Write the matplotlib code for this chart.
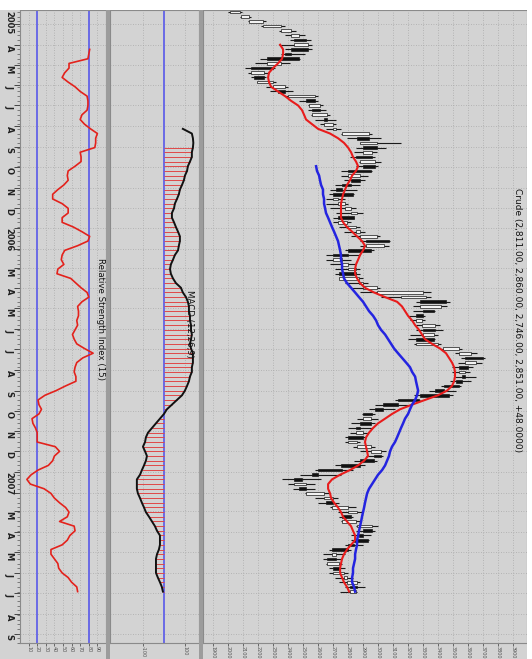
import matplotlib
matplotlib.use("Agg")
import matplotlib.pyplot as plt
import matplotlib.dates as mdates
from matplotlib.patches import Rectangle
from matplotlib.transforms import blended_transform_factory
import pandas as pd

# ---------------- data (weekly bars) ----------------
start_week = "2005-02-11"
n_weeks = 125

opens = [2010, 2085, 2140, 2230, 2350, 2420, 2520, 2440, 2530, 2420, 2470, 2260, 2300, 2150, 2240, 2190, 2300, 2380, 2400, 2580,
         2540, 2610, 2560, 2660, 2640, 2700, 2760, 2940, 2880, 2990, 2900, 2960, 2880, 2980, 2950, 2800, 2880, 2820, 2760, 2830,
         2700, 2730, 2780, 2820, 2840, 2730, 2790, 2850, 2880, 3070, 2920, 2950, 2800, 2700, 2760, 2800, 2850, 2740, 2870, 2900,
         2990, 3150, 3450, 3280, 3370, 3300, 3250, 3290, 3380, 3300, 3370, 3250, 3430, 3540, 3700, 3580, 3600, 3540, 3580, 3560,
         3540, 3440, 3470, 3270, 3130, 3030, 2960, 2900, 2950, 2880, 2850, 2900, 2800, 2860, 2950, 3020, 2970, 2880, 2760, 2600,
         2490, 2440, 2520, 2520, 2640, 2700, 2690, 2800, 2820, 2760, 2860, 2960, 2900, 2930, 2840, 2800, 2690, 2720, 2660, 2740,
         2700, 2770, 2790, 2860, 2811]
highs = [2095, 2150, 2250, 2380, 2450, 2510, 2550, 2560, 2560, 2510, 2480, 2410, 2310, 2270, 2250, 2320, 2400, 2430, 2600, 2600,
         2630, 2650, 2680, 2720, 2720, 2750, 2960, 3020, 3150, 3050, 2990, 2980, 3020, 3000, 2960, 2930, 2910, 2880, 2860, 2840,
         2780, 2800, 2850, 2900, 2840, 2820, 2880, 2910, 3010, 3080, 3070, 2970, 2880, 2820, 2850, 2880, 2880, 2900, 2930, 3010,
         3350, 3350, 3480, 3460, 3380, 3310, 3310, 3410, 3430, 3400, 3380, 3420, 3560, 3660, 3710, 3690, 3630, 3610, 3650, 3620,
         3550, 3520, 3500, 3280, 3200, 3110, 2980, 3000, 2980, 2960, 2930, 2910, 2880, 2980, 3050, 3030, 2990, 2910, 2830, 2750,
         2620, 2580, 2580, 2670, 2730, 2740, 2850, 2890, 2830, 2880, 3000, 2980, 2950, 2940, 2900, 2820, 2780, 2750, 2760, 2780,
         2800, 2830, 2880, 2910, 2860]
lows = [2000, 2080, 2130, 2220, 2340, 2380, 2410, 2340, 2380, 2350, 2210, 2180, 2110, 2130, 2150, 2190, 2250, 2280, 2380, 2470,
        2530, 2530, 2550, 2580, 2610, 2650, 2750, 2790, 2880, 2850, 2840, 2810, 2870, 2850, 2750, 2750, 2770, 2710, 2680, 2670,
        2650, 2650, 2680, 2720, 2700, 2700, 2740, 2770, 2820, 2880, 2880, 2780, 2650, 2650, 2680, 2710, 2710, 2740, 2780, 2820,
        2880, 3020, 3250, 3230, 3230, 3200, 3210, 3250, 3250, 3210, 3200, 3240, 3420, 3510, 3550, 3530, 3490, 3490, 3510, 3480,
        3420, 3340, 3240, 3110, 2980, 2940, 2890, 2860, 2820, 2800, 2810, 2780, 2780, 2830, 2880, 2920, 2840, 2710, 2580, 2480,
        2360, 2400, 2430, 2510, 2580, 2600, 2680, 2730, 2740, 2750, 2850, 2850, 2820, 2820, 2780, 2670, 2630, 2630, 2650, 2670,
        2670, 2710, 2740, 2780, 2746]
closes = [2080, 2140, 2230, 2350, 2420, 2470, 2440, 2530, 2420, 2380, 2260, 2350, 2150, 2240, 2170, 2300, 2380, 2330, 2580, 2520,
          2610, 2560, 2660, 2640, 2700, 2720, 2940, 2860, 2990, 2900, 2960, 2850, 2980, 2900, 2800, 2880, 2820, 2760, 2720, 2700,
          2730, 2780, 2820, 2860, 2730, 2790, 2850, 2880, 2990, 2920, 3040, 2800, 2700, 2760, 2800, 2850, 2740, 2870, 2900, 2990,
          3300, 3320, 3280, 3420, 3300, 3250, 3290, 3380, 3300, 3370, 3250, 3400, 3540, 3620, 3580, 3650, 3540, 3580, 3560, 3520,
          3440, 3380, 3280, 3130, 3030, 2980, 2900, 2950, 2880, 2850, 2900, 2800, 2860, 2950, 3020, 2970, 2880, 2750, 2600, 2560,
          2440, 2520, 2470, 2640, 2700, 2650, 2800, 2860, 2760, 2850, 2960, 2900, 2870, 2840, 2800, 2690, 2720, 2660, 2740, 2700,
          2770, 2790, 2860, 2810, 2851]

red_ma = [2347, 2367, 2367, 2360, 2333, 2300, 2273, 2267, 2273, 2287, 2333, 2380, 2420, 2467, 2493, 2507, 2520, 2560, 2600, 2680,
          2733, 2773, 2800, 2820, 2833, 2853, 2867, 2853, 2827, 2813, 2793, 2780, 2767, 2760, 2753, 2753, 2753, 2753, 2767, 2793,
          2827, 2860, 2893, 2913, 2900, 2880, 2867, 2853, 2847, 2847, 2860, 2880, 2913, 2973, 3047, 3127, 3160, 3180, 3200, 3227,
          3247, 3273, 3293, 3313, 3360, 3413, 3453, 3473, 3493, 3507, 3513, 3513, 3507, 3493, 3460, 3400, 3313, 3227, 3147, 3093,
          3047, 3000, 2967, 2940, 2920, 2913, 2920, 2927, 2933, 2907, 2867, 2813, 2747, 2693, 2667, 2667, 2680, 2687, 2707, 2733,
          2753, 2767, 2793, 2820, 2833, 2847, 2847, 2820, 2793, 2773, 2760, 2753, 2747, 2747, 2760, 2773, 2793, 2807]
blue_ma = [2587, 2593, 2607, 2613, 2620, 2633, 2633, 2640, 2640, 2647, 2653, 2667, 2680, 2693, 2707, 2720, 2733, 2740, 2747, 2753,
           2753, 2760, 2760, 2767, 2773, 2793, 2820, 2847, 2873, 2900, 2920, 2940, 2967, 2987, 3000, 3020, 3047, 3067, 3087, 3107,
           3133, 3160, 3187, 3213, 3227, 3247, 3253, 3260, 3267, 3260, 3247, 3227, 3213, 3200, 3180, 3167, 3153, 3140, 3127, 3113,
           3093, 3080, 3073, 3060, 3047, 3027, 3000, 2980, 2960, 2940, 2927, 2920, 2913, 2907, 2900, 2893, 2887, 2880, 2873, 2867,
           2860, 2860, 2853, 2847, 2847, 2840, 2833, 2833, 2827, 2827, 2840, 2847]

rsi = [81, 80, 79, 57, 57, 52, 49, 56, 64, 70, 78, 79, 79, 78, 72, 70, 75, 82, 90, 88,
       88, 87, 70, 71, 71, 64, 56, 55, 56, 51, 44, 38, 38, 49, 56, 56, 49, 49, 62, 72,
       81, 79, 67, 52, 49, 48, 51, 44, 43, 59, 65, 71, 78, 80, 72, 67, 68, 68, 66, 67,
       64, 61, 63, 66, 75, 85, 73, 66, 64, 63, 65, 65, 53, 42, 29, 21, 22, 25, 22, 14,
       15, 18, 20, 20, 20, 41, 46, 40, 38, 33, 21, 13, 8, 12, 28, 36, 40, 46, 53, 57,
       55, 46, 63, 64, 58, 55, 49, 36, 36, 40, 44, 45, 49, 56, 60, 66, 67]

macd = [90, 133, 138, 140, 138, 133, 133, 124, 114, 110, 100, 95, 86, 76, 71, 62, 52, 48, 38, 38,
        48, 57, 67, 76, 76, 71, 67, 52, 43, 33, 29, 33, 43, 57, 81, 90, 105, 114, 119, 119,
        124, 124, 129, 129, 133, 129, 124, 129, 138, 138, 138, 133, 133, 124, 119, 110, 100, 86, 62, 38,
        14, 0, -19, -38, -57, -76, -86, -90, -100, -90, -81, -86, -95, -105, -114, -129, -129, -129, -124, -114,
        -105, -95, -86, -71, -57, -43, -33, -19, -19, -19, -24, -33, -38, -38, -38, -38, -29, -19, -10, -5]
macd_hist_skip = 4

title_text = "Crude (2,811.00, 2,860.00, 2,746.00, 2,851.00, +48.0000)"
rsi_text = "Relative Strength Index (15)"
macd_text = "MACD (12,26,9)"

price_ticks = list(range(1900, 4000, 100))
rsi_ticks = [10, 20, 30, 40, 50, 60, 70, 80, 90]
rsi_levels = [20, 80]
macd_ticks = [-100, 100]

# ---------------- layout ----------------
W, H = 532, 659
BG = "#d3d3d3"
GRID = "#a9a9a9"
SEP = "#9c9c9c"
fig = plt.figure(figsize=(W / 100, H / 100), dpi=100)
fig.patch.set_facecolor(BG)


def px_axes(x0, y0, x1, y1):
    return fig.add_axes([x0 / W, 1 - y1 / H, (x1 - x0) / W, (y1 - y0) / H])


weeks = pd.date_range(start_week, periods=n_weeks, freq="7D")
yd = mdates.date2num(weeks)
y_top = mdates.date2num(pd.Timestamp("2005-02-08"))
y_bot = mdates.date2num(pd.Timestamp("2007-09-14"))
months = pd.date_range("2005-03-01", "2007-09-01", freq="MS")
ym = mdates.date2num(months)
minor_y = mdates.date2num(pd.date_range("2005-02-11", "2007-09-14", freq="7D"))

ax_r = px_axes(20, 10, 106, 643)
ax_m = px_axes(110, 10, 199, 643)
ax_p = px_axes(203, 10, 527, 643)

for ax in (ax_r, ax_m, ax_p):
    ax.set_facecolor(BG)
    ax.set_ylim(y_bot, y_top)
    ax.set_yticks(ym)
    ax.set_yticklabels([])
    ax.grid(True, axis="y", ls=(0, (1, 2)), color=GRID, lw=0.6)
    ax.grid(True, axis="x", ls=(0, (1, 2)), color=GRID, lw=0.6)
    for s in ax.spines.values():
        s.set_color("#8a8a8a")
        s.set_linewidth(0.8)
    ax.tick_params(axis="x", direction="out", length=2, width=0.6, colors="#555555",
                   labelsize=3.5, labelrotation=-90, pad=0.5)
    ax.set_axisbelow(True)

ax_r.tick_params(axis="y", direction="out", length=4, width=0.7, colors="#444444")
ax_r.set_yticks(minor_y, minor=True)
ax_r.tick_params(axis="y", which="minor", direction="out", length=2, width=0.5, colors="#555555")
for ax in (ax_m, ax_p):
    ax.tick_params(axis="y", length=0)

# ---- RSI panel ----
ax_r.set_xlim(0, 100)
ax_r.set_xticks(rsi_ticks)
ax_r.set_xticklabels([str(t) for t in rsi_ticks])
for lv in rsi_levels:
    ax_r.axvline(lv, color="#6a6ae6", lw=1.4)
ax_r.plot(rsi, yd[-len(rsi):], color="#e3221c", lw=1.2)

# ---- MACD panel ----
ax_m.set_xlim(-257, 167)
ax_m.set_xticks(macd_ticks)
ax_m.set_xticklabels([str(t) for t in macd_ticks])
ax_m.axvline(0, color="#6a6ae6", lw=1.4)
hy = yd[-len(macd) + macd_hist_skip:]
ax_m.hlines(hy, 0, macd[macd_hist_skip:], color="#e04848", lw=0.7)
ax_m.plot(macd, yd[-len(macd):], color="#111111", lw=1.4)

# ---- Price panel ----
ax_p.set_xlim(1833, 3993)
ax_p.set_xticks(price_ticks)
ax_p.set_xticklabels([str(t) for t in price_ticks])
body_h = 4.0
ax_p.hlines(yd, lows, highs, color="#1a1a1a", lw=0.8)
for y, o, c in zip(yd, opens, closes):
    lo, hi = min(o, c), max(o, c)
    if hi - lo < 6:
        hi = lo + 6
    fc = "#111111" if c < o else "#f2f2f2"
    ax_p.add_patch(Rectangle((lo, y - body_h / 2), hi - lo, body_h, facecolor=fc,
                             edgecolor="#1a1a1a", lw=0.5, zorder=3))
ax_p.plot(red_ma, yd[-len(red_ma):], color="#e81c1c", lw=1.5, zorder=4)
ax_p.plot(blue_ma, yd[-len(blue_ma):], color="#2424e0", lw=1.8, zorder=4)

# ---- separators / margins ----
for x0, x1 in ((106, 110), (199, 203)):
    fig.patches.append(Rectangle((x0 / W, 0), (x1 - x0) / W, 1 - 10 / H, transform=fig.transFigure,
                                 facecolor=SEP, edgecolor="none", zorder=5))
fig.patches.append(Rectangle((0, 1 - 10 / H), 1, 10 / H, transform=fig.transFigure,
                             facecolor="white", edgecolor="none", zorder=5))
fig.patches.append(Rectangle((527 / W, 0), 5 / W, 1, transform=fig.transFigure,
                             facecolor="white", edgecolor="none", zorder=5))

# ---- month labels on the left strip ----
tr = blended_transform_factory(fig.transFigure, ax_r.transData)
fig.text(9 / W, 1 - 11 / H, "2005", rotation=-90, va="top", ha="center", fontsize=6,
         color="#222222", fontweight="bold")
for d, yy in zip(months, ym):
    if d.month == 2 or (d.year == 2005 and d.month == 3):
        continue
    lab = str(d.year) if d.month == 1 else d.strftime("%b")[0]
    fig.text(9 / W, yy, lab, transform=tr, rotation=-90, va="top", ha="center",
             fontsize=6, color="#222222", fontweight="bold")

# ---- panel titles ----
fig.text(100 / W, 1 - 258 / H, rsi_text, rotation=-90, va="top", ha="center", fontsize=6.2, color="#111111")
fig.text(190 / W, 1 - 290 / H, macd_text, rotation=-90, va="top", ha="center", fontsize=6.2, color="#111111")
fig.text(517 / W, 1 - 188 / H, title_text, rotation=-90, va="top", ha="center", fontsize=6.5, color="#111111")

fig.savefig("out.png", dpi=100, facecolor=fig.get_facecolor())
